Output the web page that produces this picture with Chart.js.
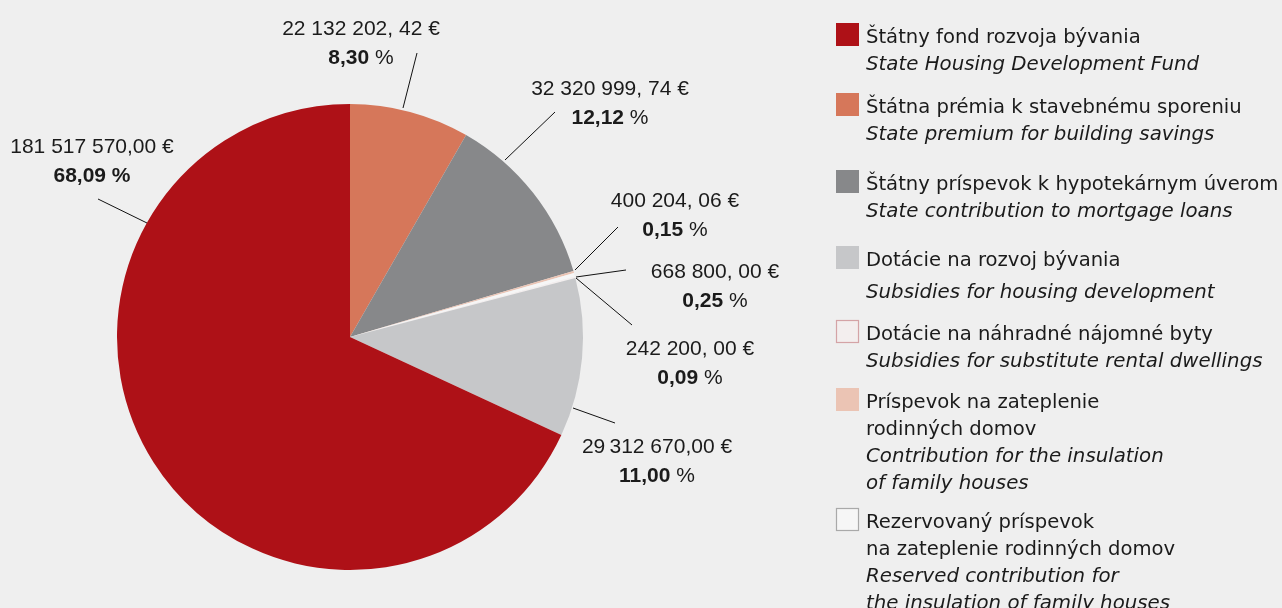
<!doctype html>
<html>
<head>
	<meta charset="utf-8" />
	<title>Chart</title>
	<style>
		html	{ height: 100% }
		body	{ height: 100%; margin: 0; padding: 0; background: #efefef }
		canvas	{ display: block; }
	</style>
	<script src="https://cdn.jsdelivr.net/npm/chart.js@4/dist/chart.umd.min.js"></script>
</head>
<body>
	<canvas id="canvas" width="1282" height="608"></canvas>
	<script>
		// slices, clockwise from 12 o'clock
		var categories = [
			'Štátna prémia k stavebnému sporeniu',
			'Štátny príspevok k hypotekárnym úverom',
			'Príspevok na zateplenie rodinných domov',
			'Rezervovaný príspevok na zateplenie rodinných domov',
			'Dotácie na náhradné nájomné byty',
			'Dotácie na rozvoj bývania',
			'Štátny fond rozvoja bývania'
		];
		var values = [22132202.42, 32320999.74, 400204.06, 668800.00, 242200.00, 29312670.00, 181517570.00];
		var amountLabels = ['22 132 202, 42 €', '32 320 999, 74 €', '400 204, 06 €', '668 800, 00 €', '242 200, 00 €', '29\u2009312 670,00 €', '181 517 570,00 €'];
		var percentLabels = ['8,30', '12,12', '0,15', '0,25', '0,09', '11,00', '68,09'];

		// legend: order (indexes into categories) and two-language texts
		var legendOrder = [6, 0, 1, 5, 4, 2, 3];
		var legendSk = [
			['Štátny fond rozvoja bývania'],
			['Štátna prémia k stavebnému sporeniu'],
			['Štátny príspevok k hypotekárnym úverom'],
			['Dotácie na rozvoj bývania'],
			['Dotácie na náhradné nájomné byty'],
			['Príspevok na zateplenie', 'rodinných domov'],
			['Rezervovaný príspevok', 'na zateplenie rodinných domov']
		];
		var legendEn = [
			['State Housing Development Fund'],
			['State premium for building savings'],
			['State contribution to mortgage loans'],
			['Subsidies for housing development'],
			['Subsidies for substitute rental dwellings'],
			['Contribution for the insulation', 'of family houses'],
			['Reserved contribution for', 'the insulation of family houses']
		];

		var colors = ['#d6775a', '#87888a', '#ebc4b4', '#f6f6f6', '#f3eeee', '#c6c7c9', '#ae1117'];
		var swatchBorders = [null, null, null, '#a9a9a9', '#d4a3a6', null, null];

		// label placement, offsets from the pie centre
		var labelLayout = [
			{ from: [53, -229], to: [67, -284], text: [11, -310] },
			{ from: [155, -177], to: [205, -225], text: [260, -250] },
			{ from: [225, -67], to: [268, -110], text: [325, -138] },
			{ from: [226, -60], to: [276, -67], text: [365, -67] },
			{ from: [226, -59], to: [282, -12], text: [340, 10] },
			{ from: [223, 71], to: [265, 86], text: [307, 108] },
			{ from: [-203, -114], to: [-252, -138], text: [-258, -192], boldPct: true }
		];
		var legendTops = [23, 93, 170, 246, 320, 388, 508];
		var legendEnShift = [0, 0, 0, 5, 0, 0, 0];

		var labelFont = '21px "Liberation Sans"';
		var labelBold = 'bold 21px "Liberation Sans"';
		var legendFont = '19.6px "DejaVu Sans"';
		var legendItalic = 'italic 19.8px "DejaVu Sans"';
		var ink = '#1b1b1b';

		var sliceLabels = {
			id: 'sliceLabels',
			afterDatasetsDraw: function(chart) {
				var ctx = chart.ctx;
				var meta = chart.getDatasetMeta(0);
				ctx.save();
				ctx.textBaseline = 'alphabetic';
				for (var i = 0; i < meta.data.length; i++) {
					var arc = meta.data[i];
					var cx = arc.x, cy = arc.y;
					var L = labelLayout[i];

					ctx.strokeStyle = '#111';
					ctx.lineWidth = 1;
					ctx.beginPath();
					ctx.moveTo(cx + L.from[0], cy + L.from[1]);
					ctx.lineTo(cx + L.to[0], cy + L.to[1]);
					ctx.stroke();

					var tx = cx + L.text[0], ty = cy + L.text[1];
					ctx.fillStyle = ink;
					ctx.font = labelFont;
					ctx.textAlign = 'center';
					ctx.fillText(amountLabels[i], tx, ty + 7.5);

					var p1 = percentLabels[i];
					var p2 = ' %';
					ctx.font = labelBold;
					var w1 = ctx.measureText(p1).width;
					ctx.font = L.boldPct ? labelBold : labelFont;
					var w2 = ctx.measureText(p2).width;
					var x0 = tx - (w1 + w2) / 2;
					ctx.textAlign = 'left';
					ctx.font = labelBold;
					ctx.fillText(p1, x0, ty + 36.5);
					ctx.font = L.boldPct ? labelBold : labelFont;
					ctx.fillText(p2, x0 + w1, ty + 36.5);
				}
				ctx.restore();
			}
		};

		var sideLegend = {
			id: 'sideLegend',
			afterDraw: function(chart) {
				var ctx = chart.ctx;
				ctx.save();
				ctx.textAlign = 'left';
				ctx.textBaseline = 'alphabetic';
				for (var k = 0; k < legendOrder.length; k++) {
					var idx = legendOrder[k];
					var top = legendTops[k];
					ctx.fillStyle = colors[idx];
					ctx.fillRect(836, top, 23, 23);
					if (swatchBorders[idx]) {
						ctx.strokeStyle = swatchBorders[idx];
						ctx.lineWidth = 1.2;
						ctx.strokeRect(836.5, top + 0.5, 22, 22);
					}
					ctx.fillStyle = ink;
					var y = top + 13 + 7;
					ctx.font = legendFont;
					for (var a = 0; a < legendSk[k].length; a++) {
						ctx.fillText(legendSk[k][a], 866, y);
						y += 27;
					}
					y += legendEnShift[k];
					ctx.font = legendItalic;
					for (var b = 0; b < legendEn[k].length; b++) {
						ctx.fillText(legendEn[k][b], 866, y);
						y += 27;
					}
				}
				ctx.restore();
			}
		};

		new Chart(document.getElementById('canvas').getContext('2d'), {
			type: 'pie',
			data: {
				labels: categories,
				datasets: [{
					data: values,
					backgroundColor: colors,
					borderWidth: 0
				}]
			},
			options: {
				responsive: false,
				animation: false,
				devicePixelRatio: 1,
				layout: { padding: { left: 117, top: 104, right: 699, bottom: 38 } },
				plugins: {
					legend: { display: false },
					tooltip: { enabled: false }
				}
			},
			plugins: [sliceLabels, sideLegend]
		});
	</script>
</body>
</html>
